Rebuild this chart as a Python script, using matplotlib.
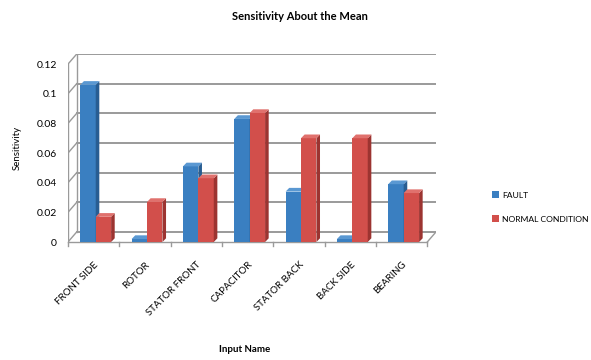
import numpy as np
import matplotlib.pyplot as plt
from matplotlib.patches import Polygon

plt.rcParams['font.family'] = ['Lato', 'DejaVu Sans']

categories = ['FRONT SIDE', 'ROTOR', 'STATOR FRONT', 'CAPACITOR',
              'STATOR BACK', 'BACK SIDE', 'BEARING']
fault = [0.106, 0.002, 0.051, 0.083, 0.034, 0.002, 0.039]
normal = [0.017, 0.027, 0.043, 0.087, 0.070, 0.070, 0.033]
yticks = [0, 0.02, 0.04, 0.06, 0.08, 0.1, 0.12]
ytick_labels = ['0', '0.02', '0.04', '0.06', '0.08', '0.1', '0.12']

# 3D look: wall offset and bar depth (data units)
wdx, wdy = 0.17, 0.0068
bdx, bdy = 0.07, 0.0025
w = 0.30

fig = plt.figure(figsize=(5.91, 3.6), dpi=100)
ax = fig.add_axes([68/591, 118/360, 368/591, 188/360])
n = len(categories)
x0, x1 = -0.5, n - 0.5
ax.set_xlim(x0, x1 + wdx)
ax.set_ylim(0, 0.12 + wdy)
for s in ax.spines.values():
    s.set_visible(False)

gc = '#9a9a9a'
# back wall gridlines + left wall diagonals
for y in yticks:
    ax.plot([x0 + wdx, x1 + wdx], [y + wdy, y + wdy], color=gc, lw=1.4, zorder=1)
    ax.plot([x0, x0 + wdx], [y, y + wdy], color=gc, lw=1.0, zorder=1)
ax.plot([x0 + wdx, x0 + wdx], [wdy, 0.12 + wdy], color=gc, lw=1.0, zorder=1)
ax.plot([x0, x0], [0, 0.12], color=gc, lw=1.0, zorder=1)
# floor
ax.plot([x0, x1], [0, 0], color=gc, lw=1.0, zorder=1, clip_on=False)
ax.plot([x1, x1 + wdx], [0, wdy], color=gc, lw=1.0, zorder=1)

def draw_bars(xs, vals, front, side, top, z):
    bars = ax.bar(xs, vals, width=w, color=front, edgecolor='none', zorder=z)
    for b in bars:
        bx, bw, h = b.get_x(), b.get_width(), b.get_height()
        ax.add_patch(Polygon([(bx + bw, 0), (bx + bw + bdx, bdy),
                              (bx + bw + bdx, h + bdy), (bx + bw, h)],
                             closed=True, facecolor=side, edgecolor='none', zorder=z))
        ax.add_patch(Polygon([(bx, h), (bx + bdx, h + bdy),
                              (bx + bw + bdx, h + bdy), (bx + bw, h)],
                             closed=True, facecolor=top, edgecolor='none', zorder=z))
    return bars

xs = np.arange(n)
b1 = draw_bars(xs - w/2 + 0.04, fault, '#3a7fc1', '#285d92', '#5a98d2', 3)
b2 = draw_bars(xs + w/2 + 0.04, normal, '#d24f4b', '#9c3431', '#e0716d', 4)

ax.set_yticks(yticks)
ax.set_yticklabels(ytick_labels, fontsize=7.5)
ax.tick_params(axis='y', length=0, pad=8)
ax.set_xticks(xs)
ax.set_xticklabels(categories, fontsize=7, rotation=45, ha='right',
                   rotation_mode='anchor')
ax.tick_params(axis='x', length=0, pad=13)
# category boundary ticks under the floor
for xb in np.arange(n + 1) - 0.5:
    ax.plot([xb, xb], [0, -0.003], color=gc, lw=1.0, clip_on=False, zorder=1)

ax.set_ylabel('Sensitivity', fontsize=7, labelpad=11)
fig.text(300/591, 1 - 17/360, 'Sensitivity About the Mean', fontsize=8,
         fontweight='bold', ha='center', va='center')
fig.text(245/591, 1 - 350/360, 'Input Name', fontsize=7, fontweight='bold',
         ha='center', va='center')

ax.legend([b1, b2], ['FAULT', 'NORMAL CONDITION'], loc='center left',
          bbox_to_anchor=(488/591, 1 - 207/360), bbox_transform=fig.transFigure,
          frameon=False, fontsize=6.1, handlelength=0.8, handleheight=0.8,
          handletextpad=0.4, labelspacing=2.0, borderpad=0)

fig.savefig('out.png', dpi=100)
